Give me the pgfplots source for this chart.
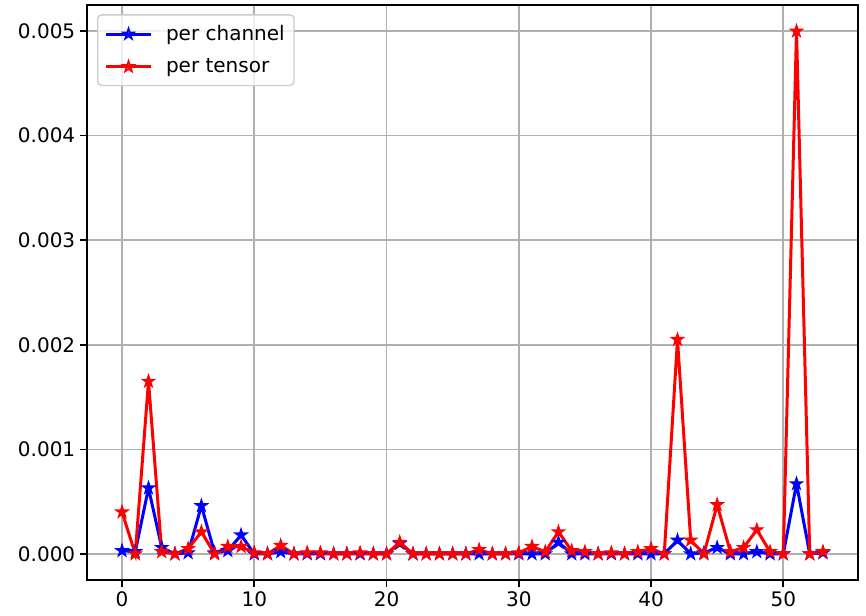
\documentclass[border=0pt]{standalone}
\usepackage{pgfplots}
\pgfplotsset{compat=1.18}
\usepackage{fontspec}
\setmainfont{DejaVu Sans}
\pgfdeclareplotmark{fstar}{%
  \pgfpathmoveto{\pgfpointpolar{90}{\pgfplotmarksize}}%
  \pgfpathlineto{\pgfpointpolar{126}{0.382\pgfplotmarksize}}%
  \pgfpathlineto{\pgfpointpolar{162}{\pgfplotmarksize}}%
  \pgfpathlineto{\pgfpointpolar{198}{0.382\pgfplotmarksize}}%
  \pgfpathlineto{\pgfpointpolar{234}{\pgfplotmarksize}}%
  \pgfpathlineto{\pgfpointpolar{270}{0.382\pgfplotmarksize}}%
  \pgfpathlineto{\pgfpointpolar{306}{\pgfplotmarksize}}%
  \pgfpathlineto{\pgfpointpolar{342}{0.382\pgfplotmarksize}}%
  \pgfpathlineto{\pgfpointpolar{18}{\pgfplotmarksize}}%
  \pgfpathlineto{\pgfpointpolar{54}{0.382\pgfplotmarksize}}%
  \pgfpathclose\pgfusepathqfillstroke}
\pgfplotstableread{
x ch ten
0 0.00003 0.00040
1 0.00002 0.00000
2 0.00063 0.00165
3 0.00006 0.00002
4 0.00000 0.00000
5 0.00001 0.00005
6 0.00046 0.00021
7 0.00001 0.00000
8 0.00003 0.00007
9 0.00018 0.00007
10 0.00000 0.00001
11 0.00000 0.00000
12 0.00002 0.00008
13 0.00000 0.00000
14 0.00000 0.00001
15 0.00000 0.00001
16 0.00000 0.00000
17 0.00000 0.00000
18 0.00000 0.00001
19 0.00000 0.00000
20 0.00000 0.00000
21 0.00010 0.00011
22 0.00000 0.00000
23 0.00000 0.00000
24 0.00000 0.00000
25 0.00000 0.00000
26 0.00000 0.00000
27 0.00000 0.00004
28 0.00000 0.00000
29 0.00000 0.00000
30 0.00000 0.00001
31 0.00000 0.00007
32 0.00000 0.00002
33 0.00011 0.00021
34 0.00000 0.00003
35 0.00000 0.00002
36 0.00000 0.00000
37 0.00000 0.00001
38 0.00000 0.00000
39 0.00000 0.00002
40 0.00000 0.00005
41 0.00000 0.00000
42 0.00013 0.00205
43 0.00000 0.00013
44 0.00001 0.00000
45 0.00006 0.00047
46 0.00000 0.00002
47 0.00000 0.00006
48 0.00002 0.00023
49 0.00000 0.00002
50 0.00000 0.00000
51 0.00067 0.00500
52 0.00000 0.00000
53 0.00001 0.00002
}\data
\begin{document}
\begin{tikzpicture}[x=1pt,y=1pt]
\begin{axis}[
  name=ax,
  scale only axis,
  width=578.25pt, height=431.25pt,
  xmin=-2.65, xmax=55.65,
  ymin=-0.00025, ymax=0.00525,
  xtick={0,10,20,30,40,50},
  ytick={0,0.001,0.002,0.003,0.004,0.005},
  scaled y ticks=false,
  yticklabel style={/pgf/number format/fixed,/pgf/number format/fixed zerofill,/pgf/number format/precision=3},
  /pgf/number format/assume math mode=true,
  tick label style={font=\fontsize{15}{18}\selectfont, black},
  grid=major,
  major grid style={color=black!31, line width=1.2pt},
  axis line style={line width=1.2pt},
  tick style={line width=1.2pt, black},
  tick align=outside,
  major tick length=5.3pt,
  xtick pos=bottom, ytick pos=left,
  legend style={at={(0.013,0.984)}, anchor=north west, draw=black!20, line width=1pt, rounded corners=3pt, font=\fontsize{15}{18}\selectfont, fill=white, fill opacity=0.8, text opacity=1, inner xsep=5pt, inner ysep=6pt, row sep=8pt, column sep=8pt},
  legend cell align=left,
  legend image code/.code={\draw[mark repeat=2,mark phase=2] plot coordinates {(0pt,0pt) (17pt,0pt) (34pt,0pt)};},
]
\addplot[blue, line width=2.25pt, mark=fstar, mark size=4.6pt, mark options={line width=1pt, solid}] table[x=x,y=ch] {\data};
\addlegendentry{per channel}
\addplot[red, line width=2.25pt, mark=fstar, mark size=4.6pt, mark options={line width=1pt, solid}] table[x=x,y=ten] {\data};
\addlegendentry{per tensor}
\end{axis}
\path (ax.south west) ++(-65.25pt,-26.25pt) coordinate (bl);
\path (ax.north east) ++(6pt,3.75pt) coordinate (tr);
\useasboundingbox (bl) rectangle (tr);
\end{tikzpicture}
\end{document}
